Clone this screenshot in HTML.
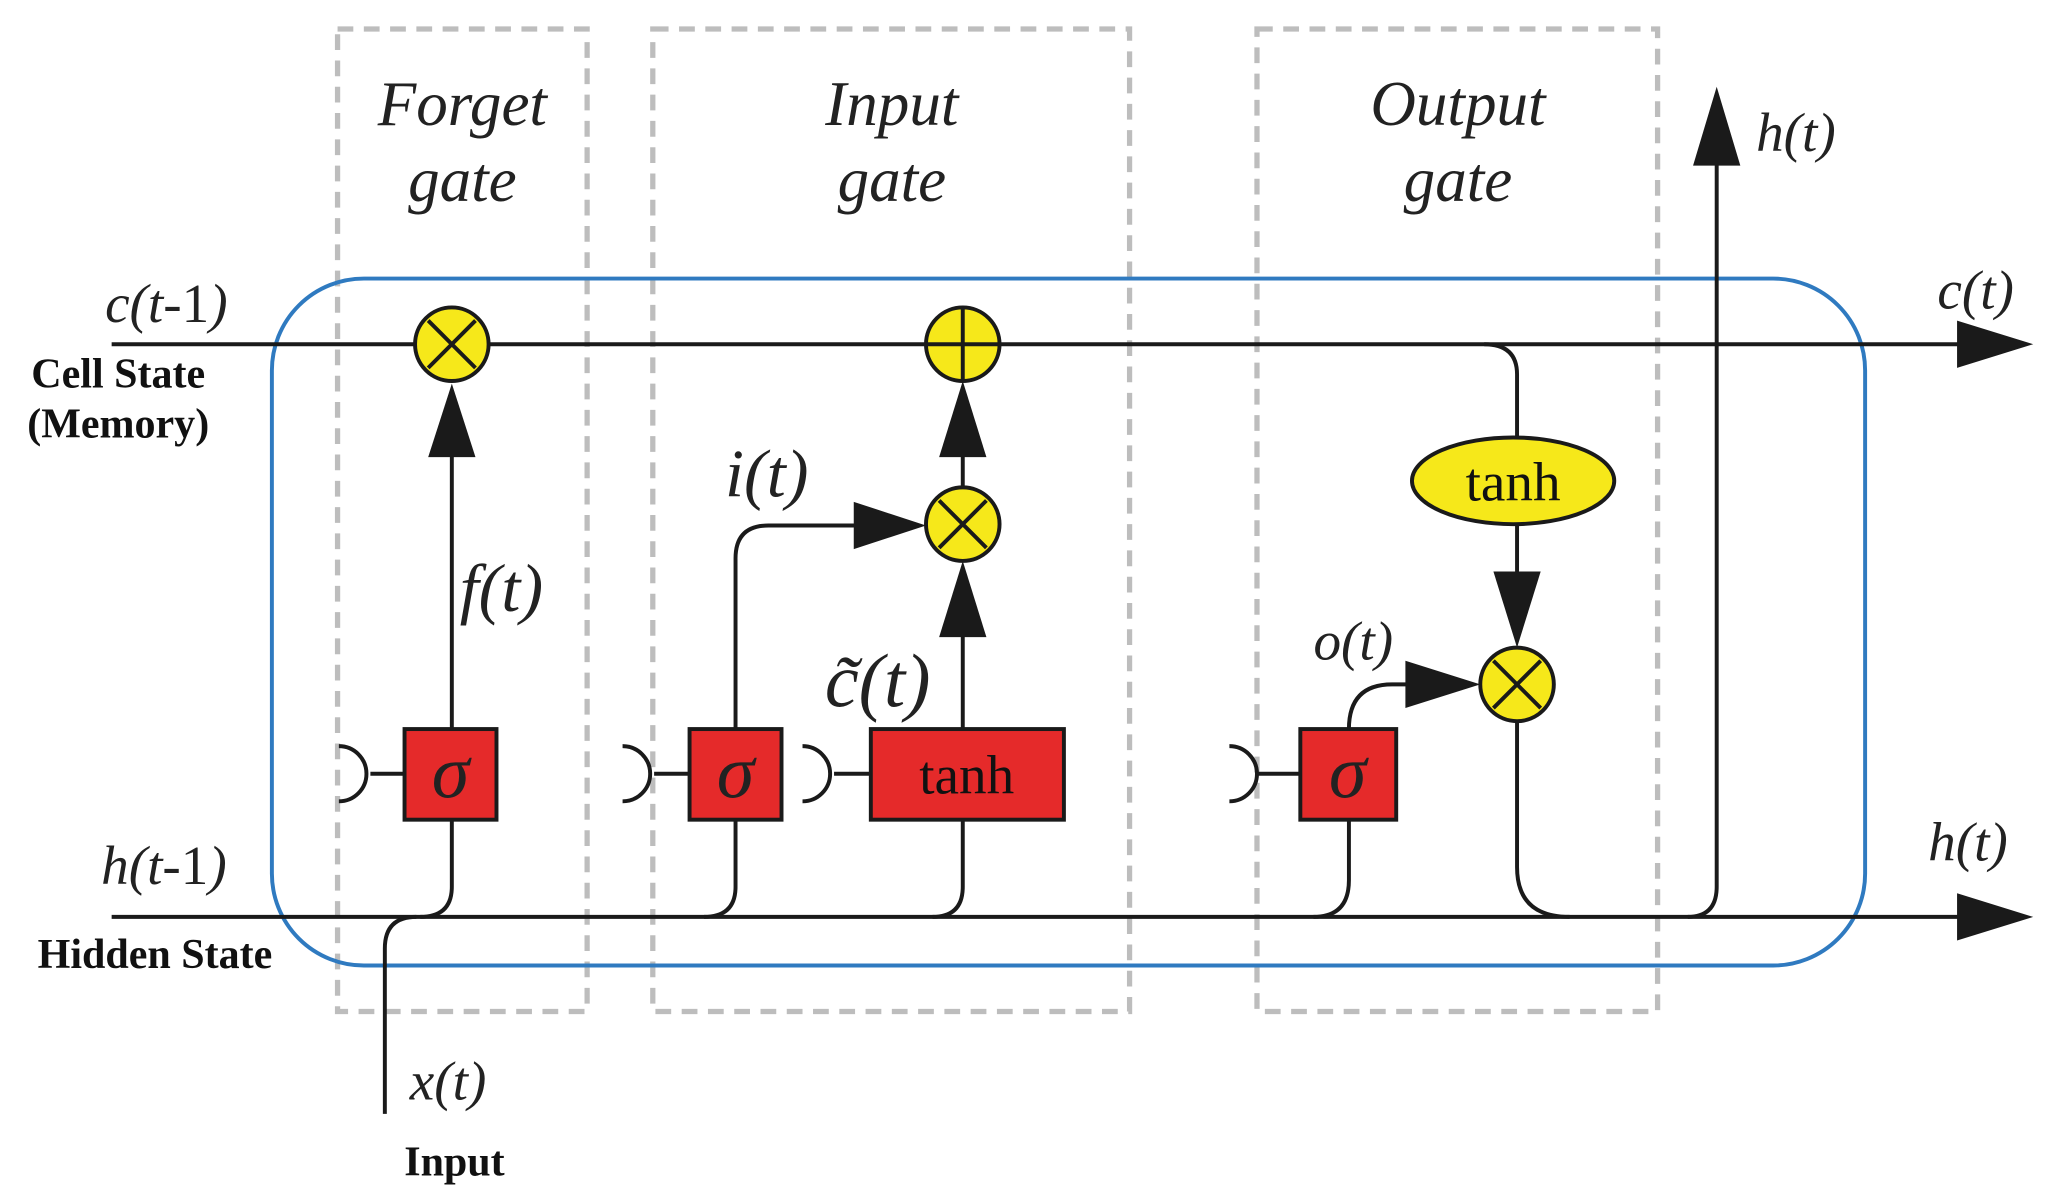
<!DOCTYPE html>
<html><head><meta charset="utf-8"><style>
html,body{margin:0;padding:0;background:#fff;}
svg{display:block;}
.it{font-family:"Liberation Serif",serif;font-style:italic;fill:#222;}
.b{font-family:"Liberation Serif",serif;font-weight:bold;fill:#111;}
</style></head><body>
<svg width="2049" height="1202" viewBox="0 0 1560 915" xmlns="http://www.w3.org/2000/svg">
<rect width="1560" height="915" fill="#fff"/>
<g fill="none" stroke="#bdbdbd" stroke-width="4" stroke-dasharray="12,8">
<rect x="257" y="22" width="190" height="748"/>
<rect x="497" y="22" width="363" height="748"/>
<rect x="957" y="22" width="305" height="748"/>
</g>
<rect x="207" y="212" width="1213" height="523" rx="70" fill="none" stroke="#2f7ac0" stroke-width="3"/>
<g fill="none" stroke="#1a1a1a" stroke-width="3">
<line x1="85" y1="262" x2="1500" y2="262"/>
<line x1="85" y1="698" x2="1500" y2="698"/>
<path d="M293,848 L293,722 Q293,698 317,698"/>
<path d="M320,698 Q344,698 344,675 L344,624"/>
<line x1="344" y1="555" x2="344" y2="345"/>
<path d="M536,698 Q560,698 560,675 L560,624"/>
<path d="M560,555 L560,425 Q560,400 585,400 L655,400"/>
<path d="M710,698 Q733,698 733,675 L733,624"/>
<line x1="733" y1="555" x2="733" y2="480"/>
<line x1="733" y1="371" x2="733" y2="345"/>
<path d="M1000,698 Q1027,698 1027,670 L1027,624"/>
<path d="M1027,555 Q1027,521 1060,521 L1075,521"/>
<path d="M1130,262 Q1155,262 1155,285 L1155,333"/>
<line x1="1155" y1="399" x2="1155" y2="440"/>
<path d="M1155,549 L1155,660 Q1155,698 1195,698"/>
<path d="M1285,698 Q1307,698 1307,675 L1307,120"/>
<line x1="282" y1="589" x2="308" y2="589"/>
<line x1="498" y1="589" x2="525" y2="589"/>
<line x1="635" y1="589" x2="663" y2="589"/>
<line x1="958" y1="589" x2="990" y2="589"/>
<path d="M258,568 A21,21 0 0 1 258,610"/>
<path d="M474,568 A21,21 0 0 1 474,610"/>
<path d="M611,568 A21,21 0 0 1 611,610"/>
<path d="M936,568 A21,21 0 0 1 936,610"/>
</g>
<g fill="#1a1a1a">
<polygon points="1548,262 1490,244 1490,280"/>
<polygon points="1548,698 1490,680 1490,716"/>
<polygon points="344,292 326,348 362,348"/>
<polygon points="733,290 715,348 751,348"/>
<polygon points="733,427 715,485 751,485"/>
<polygon points="705,400 650,382 650,418"/>
<polygon points="1127,521 1070,503 1070,539"/>
<polygon points="1155,493 1137,435 1173,435"/>
<polygon points="1307,66 1289,126 1325,126"/>
</g>
<g stroke="#1a1a1a" stroke-width="3" fill="#f6e81a">
<circle cx="344" cy="262" r="28"/>
<circle cx="733" cy="262" r="28"/>
<circle cx="733" cy="399" r="28"/>
<circle cx="1155" cy="521" r="28"/>
<ellipse cx="1152" cy="366" rx="77" ry="33"/>
</g>
<g stroke="#1a1a1a" stroke-width="3">
<line x1="326" y1="244" x2="362" y2="280"/><line x1="362" y1="244" x2="326" y2="280"/>
<line x1="715" y1="381" x2="751" y2="417"/><line x1="751" y1="381" x2="715" y2="417"/>
<line x1="1137" y1="503" x2="1173" y2="539"/><line x1="1173" y1="503" x2="1137" y2="539"/>
<line x1="733" y1="234" x2="733" y2="290"/><line x1="705" y1="262" x2="761" y2="262"/>
</g>
<g stroke="#1a1a1a" stroke-width="3" fill="#e52a2a">
<rect x="308" y="555" width="70" height="69"/>
<rect x="525" y="555" width="70" height="69"/>
<rect x="663" y="555" width="147" height="69"/>
<rect x="990" y="555" width="73" height="69"/>
</g>
<g class="it" font-size="58" text-anchor="middle">
<text x="343" y="607">σ</text><text x="560" y="607">σ</text><text x="1026" y="607">σ</text>
</g>
<text x="736" y="604" font-family="Liberation Serif,serif" font-size="42" text-anchor="middle" fill="#111">tanh</text>
<text x="1152" y="381" font-family="Liberation Serif,serif" font-size="42" text-anchor="middle" fill="#111">tanh</text>
<g class="it" font-size="48" text-anchor="middle">
<text x="352" y="95">Forget</text><text x="352" y="153">gate</text>
<text x="679" y="95">Input</text><text x="679" y="153">gate</text>
<text x="1110" y="95">Output</text><text x="1110" y="153">gate</text>
</g>
<g class="it" font-size="42">
<text x="1337" y="115">h(t)</text>
<text x="1475" y="235">c(t)</text>
<text x="1468" y="655">h(t)</text>
<text x="80" y="245">c(t-<tspan font-style="normal">1</tspan>)</text>
<text x="77" y="673">h(t-<tspan font-style="normal">1</tspan>)</text>
<text x="552" y="378" font-size="52">i(t)</text>
<text x="350" y="465" font-size="52">f(t)</text>
<text x="1000" y="502">o(t)</text>
<text x="312" y="837">x(t)</text>
<text x="628" y="538" font-size="58">c̃(t)</text>
</g>
<g class="b" font-size="32">
<text x="90" y="295" text-anchor="middle">Cell State</text>
<text x="90" y="333" text-anchor="middle">(Memory)</text>
<text x="118" y="737" text-anchor="middle">Hidden State</text>
<text x="346" y="895" text-anchor="middle">Input</text>
</g>
</svg>
</body></html>
